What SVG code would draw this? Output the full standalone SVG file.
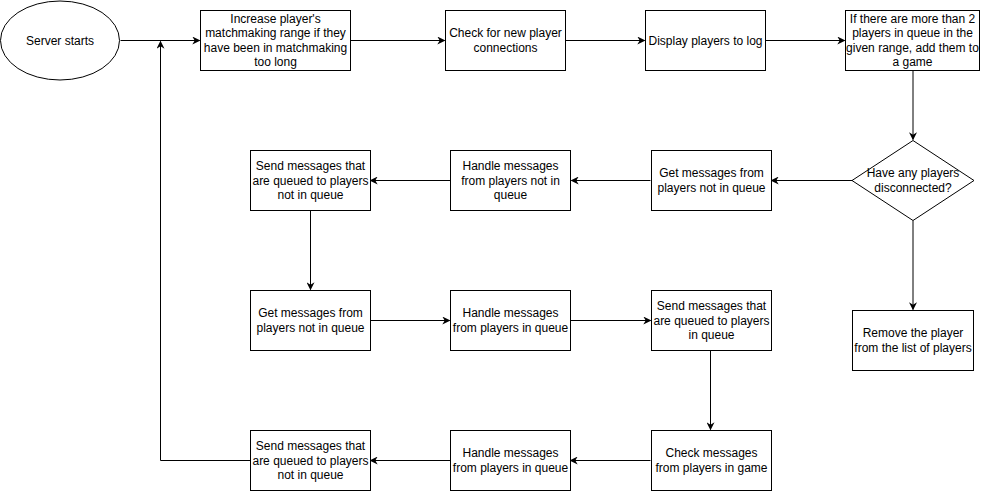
<svg xmlns="http://www.w3.org/2000/svg" width="981" height="491" viewBox="0 0 981 491">
<defs>
<style>
.n{fill:#fff;stroke:#000;stroke-width:1}
.t{font-family:"Liberation Sans",Arial,sans-serif;font-size:12px;fill:#000;text-anchor:middle}
.c{fill:none;stroke:#000;stroke-width:1}
</style>
<marker id="a" viewBox="0 0 10 10" refX="9" refY="5" markerWidth="8" markerHeight="8" markerUnits="userSpaceOnUse" orient="auto">
<path d="M0,0 L10,5 L0,10 L3,5 Z" fill="#000"/>
</marker>
</defs>
<rect width="981" height="491" fill="#fff"/>
<g id="connectors">
<path class="c" d="M120.5,40.5 H199.5" marker-end="url(#a)"/>
<path class="c" d="M350.5,40.5 H444.5" marker-end="url(#a)"/>
<path class="c" d="M565.5,40.5 H644.5" marker-end="url(#a)"/>
<path class="c" d="M765.5,40.5 H844.5" marker-end="url(#a)"/>
<path class="c" d="M913,70.5 V139.5" marker-end="url(#a)"/>
<path class="c" d="M913,220.5 V309.5" marker-end="url(#a)"/>
<path class="c" d="M852.5,180.5 H771.5" marker-end="url(#a)"/>
<path class="c" d="M650.5,180.5 H571.5" marker-end="url(#a)"/>
<path class="c" d="M450.5,180.5 H370.5" marker-end="url(#a)"/>
<path class="c" d="M310.5,210.5 V289.5" marker-end="url(#a)"/>
<path class="c" d="M370.5,320.5 H449.5" marker-end="url(#a)"/>
<path class="c" d="M570.5,320.5 H650.5" marker-end="url(#a)"/>
<path class="c" d="M710.5,350.5 V429.5" marker-end="url(#a)"/>
<path class="c" d="M650.5,460.5 H570.5" marker-end="url(#a)"/>
<path class="c" d="M450.5,460.5 H370.5" marker-end="url(#a)"/>
<path class="c" d="M250.5,460.5 H160.5 V41.5" marker-end="url(#a)"/>
</g>
<g id="start">
<ellipse class="n" cx="60" cy="40.5" rx="59.5" ry="39.5"/>
<text class="t" x="60" y="45">Server starts</text>
</g>
<g id="increase">
<rect class="n" x="200.5" y="10.5" width="150" height="60"/>
<text class="t" x="275.5" y="22.5">Increase player's</text>
<text class="t" x="275.5" y="37">matchmaking range if they</text>
<text class="t" x="275.5" y="51.5">have been in matchmaking</text>
<text class="t" x="275.5" y="66">too long</text>
</g>
<g id="check-new">
<rect class="n" x="445.5" y="10.5" width="120" height="60"/>
<text class="t" x="505.5" y="37">Check for new player</text>
<text class="t" x="505.5" y="51.5">connections</text>
</g>
<g id="display">
<rect class="n" x="645.5" y="10.5" width="120" height="60"/>
<text class="t" x="705.5" y="44.5">Display players to log</text>
</g>
<g id="add-game">
<rect class="n" x="845.5" y="10.5" width="134" height="60"/>
<text class="t" x="912.5" y="22.5">If there are more than 2</text>
<text class="t" x="912.5" y="37">players in queue in the</text>
<text class="t" x="912.5" y="51.5">given range, add them to</text>
<text class="t" x="912.5" y="66">a game</text>
</g>
<g id="disconnected">
<path class="n" d="M913,140.5 L974,180.5 L913,220.5 L852,180.5 Z"/>
<text class="t" x="913" y="177">Have any players</text>
<text class="t" x="913" y="191.5">disconnected?</text>
</g>
<g id="remove">
<rect class="n" x="852.5" y="310.5" width="121" height="60"/>
<text class="t" x="913" y="337">Remove the player</text>
<text class="t" x="913" y="351.5">from the list of players</text>
</g>
<g id="get-notq-1">
<rect class="n" x="651.5" y="150.5" width="120" height="60"/>
<text class="t" x="711.5" y="177">Get messages from</text>
<text class="t" x="711.5" y="191.5">players not in queue</text>
</g>
<g id="handle-notq">
<rect class="n" x="450.5" y="150.5" width="120" height="60"/>
<text class="t" x="510.5" y="170">Handle messages</text>
<text class="t" x="510.5" y="184.5">from players not in</text>
<text class="t" x="510.5" y="199">queue</text>
</g>
<g id="send-notq-1">
<rect class="n" x="250.5" y="150.5" width="120" height="60"/>
<text class="t" x="310.5" y="170">Send messages that</text>
<text class="t" x="310.5" y="184.5">are queued to players</text>
<text class="t" x="310.5" y="199">not in queue</text>
</g>
<g id="get-notq-2">
<rect class="n" x="250.5" y="290.5" width="120" height="60"/>
<text class="t" x="310.5" y="317">Get messages from</text>
<text class="t" x="310.5" y="331.5">players not in queue</text>
</g>
<g id="handle-inq-1">
<rect class="n" x="450.5" y="290.5" width="120" height="60"/>
<text class="t" x="510.5" y="317">Handle messages</text>
<text class="t" x="510.5" y="331.5">from players in queue</text>
</g>
<g id="send-inq">
<rect class="n" x="651.5" y="290.5" width="120" height="60"/>
<text class="t" x="711.5" y="310">Send messages that</text>
<text class="t" x="711.5" y="324.5">are queued to players</text>
<text class="t" x="711.5" y="339">in queue</text>
</g>
<g id="check-game">
<rect class="n" x="651.5" y="430.5" width="120" height="60"/>
<text class="t" x="711.5" y="457">Check messages</text>
<text class="t" x="711.5" y="471.5">from players in game</text>
</g>
<g id="handle-inq-2">
<rect class="n" x="450.5" y="430.5" width="120" height="60"/>
<text class="t" x="510.5" y="457">Handle messages</text>
<text class="t" x="510.5" y="471.5">from players in queue</text>
</g>
<g id="send-notq-2">
<rect class="n" x="250.5" y="430.5" width="120" height="60"/>
<text class="t" x="310.5" y="450">Send messages that</text>
<text class="t" x="310.5" y="464.5">are queued to players</text>
<text class="t" x="310.5" y="479">not in queue</text>
</g>
</svg>
